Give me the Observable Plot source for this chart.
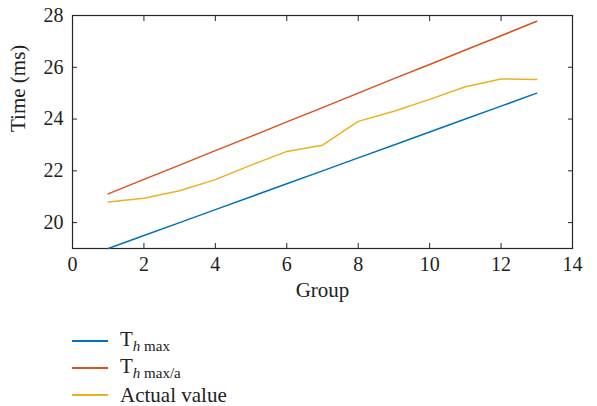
<!DOCTYPE html>
<html>
<head>
<meta charset="utf-8">
<script src="https://cdn.jsdelivr.net/npm/d3@7"></script>
<script src="https://cdn.jsdelivr.net/npm/@observablehq/plot@0.6"></script>
<style>
  html, body { margin: 0; padding: 0; background: #fff; }
  body { width: 597px; height: 406px; overflow: hidden; font-family: "Liberation Serif", "DejaVu Serif", serif; }
  #chart svg { display: block; }
  #chart svg text { font-family: "Liberation Serif", "DejaVu Serif", serif !important; }
  #legend { position: relative; height: 96px; }
  .row { position: absolute; left: 0; height: 24px; display: flex; align-items: center; }
  .sw { position: absolute; left: 72px; width: 36px; height: 2px; top: 11px; }
  .lbl { position: absolute; left: 120px; font-size: 21px; color: #222; white-space: nowrap; line-height: 1; }
  .lbl sub { font-size: 15px; vertical-align: -5px; }
</style>
</head>
<body>
<div id="chart"></div>
<div id="legend"></div>
<script>
const groups = [1, 2, 3, 4, 5, 6, 7, 8, 9, 10, 11, 12, 13];
const thMax = [19, 19.5, 20, 20.5, 21, 21.5, 22, 22.5, 23, 23.5, 24, 24.5, 25];
const thMaxA = [21.11, 21.67, 22.22, 22.78, 23.33, 23.89, 24.44, 25.0, 25.56, 26.11, 26.67, 27.22, 27.78];
const actual = [20.8, 20.94, 21.23, 21.66, 22.22, 22.75, 22.99, 23.91, 24.3, 24.76, 25.25, 25.55, 25.53];
const xTicks = [0, 2, 4, 6, 8, 10, 12, 14];
const yTicks = [20, 22, 24, 26, 28];
const seriesNames = ["Th max", "Th max/a", "Actual value"];
const seriesLabels = ["T<sub><i>h</i> max</sub>", "T<sub><i>h</i> max/a</sub>", "Actual value"];
const seriesColors = ["#0072BD", "#D95319", "#EDB120"];

const rows = [];
[thMax, thMaxA, actual].forEach((vals, s) => {
  vals.forEach((v, i) => rows.push({ series: seriesNames[s], group: groups[i], value: v }));
});

const axisColor = "#262626";
const serif = "'Liberation Serif', 'DejaVu Serif', serif";
const chart = Plot.plot({
  width: 597,
  height: 310,
  marginLeft: 72,
  marginRight: 25,
  marginTop: 15,
  marginBottom: 62,
  style: { fontFamily: serif, fontSize: "20px", color: "#222", background: "white" },
  x: { domain: [0, 14] },
  y: { domain: [19, 28] },
  color: { domain: seriesNames, range: seriesColors },
  marks: [
    Plot.frame({ stroke: axisColor, strokeWidth: 1.2 }),
    Plot.axisX(xTicks, { anchor: "bottom", tickSize: -5, tickPadding: 13, stroke: axisColor, label: null, fontSize: 20, fontFamily: serif }),
    Plot.axisX(xTicks, { anchor: "top", tickSize: -5, text: null, stroke: axisColor, label: null }),
    Plot.axisY(yTicks, { anchor: "left", tickSize: -5, tickPadding: 14, stroke: axisColor, label: null, fontSize: 20, fontFamily: serif }),
    Plot.axisY(yTicks, { anchor: "right", tickSize: -5, text: null, stroke: axisColor, label: null }),
    Plot.text(["Group"], { frameAnchor: "bottom", dy: 48, fontSize: 21, fontFamily: serif, fill: "#222" }),
    Plot.text(["Time (ms)"], { frameAnchor: "left", dx: -54, rotate: -90, fontSize: 21, fontFamily: serif, fill: "#222" }),
    Plot.line(rows, { x: "group", y: "value", z: "series", stroke: "series", strokeWidth: 1.5 })
  ]
});
document.getElementById("chart").appendChild(chart);

const legend = document.getElementById("legend");
const rowTops = [19, 46, 73];
seriesLabels.forEach((lab, i) => {
  const r = document.createElement("div");
  r.className = "row";
  r.style.top = rowTops[i] + "px";
  r.style.width = "400px";
  r.innerHTML = `<span class="sw" style="background:${seriesColors[i]}"></span><span class="lbl">${lab}</span>`;
  legend.appendChild(r);
});
</script>
</body>
</html>
